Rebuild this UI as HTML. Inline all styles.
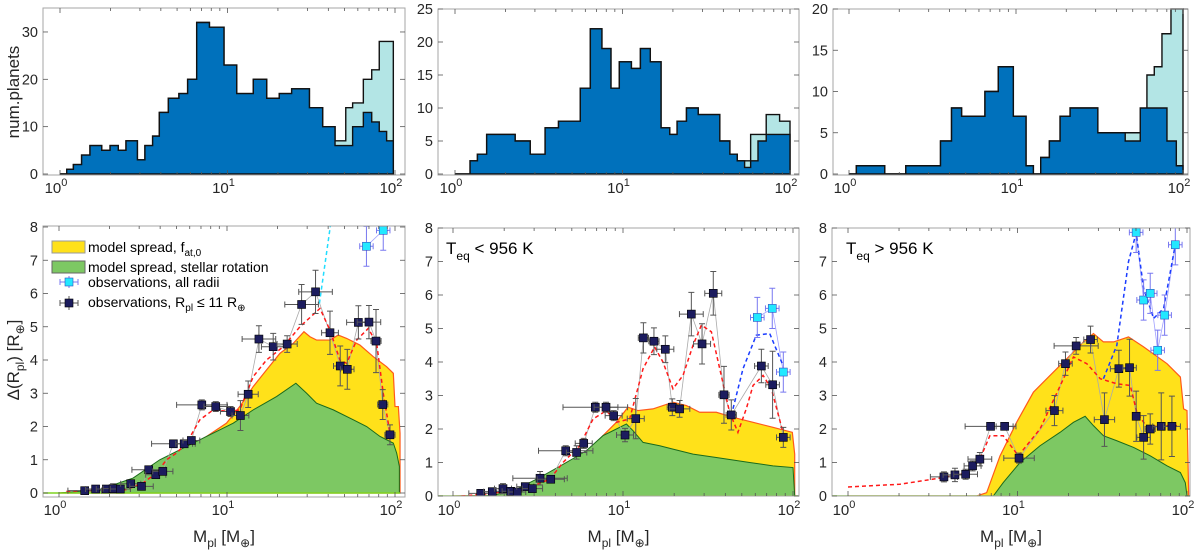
<!DOCTYPE html>
<html><head><meta charset="utf-8"><style>
body{margin:0;background:#fff;width:1200px;height:555px;overflow:hidden}
svg{display:block;font-family:"Liberation Sans",sans-serif}
</style></head><body>
<svg id="fig" width="1200" height="555" viewBox="0 0 1200 555"></svg>
<script>
// ---------- Histogram data (edges in log10 M, counts) ----------
const h1Edges=[0,.04,.08,.129,.179,.249,.299,.348,.394,.462,.507,.553,.593,.647,.710,.762,.816,.892,.979,1.055,1.154,1.234,1.309,1.383,1.489,1.568,1.642,1.706,1.747,1.811,1.861,1.906,1.950,1.990];
const h1Dark=[0,1,2,4,6,5,6,5,7,3,6,8,13,16,17,20,32,31,23,17,20,16,17,18,14,10,6,6,10,13,11,9,7];
const h1Light=[0,1,2,4,6,5,6,5,7,3,6,8,13,16,17,20,32,31,23,17,20,16,17,18,14,10,7,14,15,20,22,28,28];
const h2Edges=[0,.09,.134,.189,.359,.449,.538,.618,.748,.808,.877,.931,.981,1.053,1.107,1.166,1.230,1.282,1.326,1.382,1.452,1.581,1.641,1.685,1.729,1.765,1.809,1.858,1.938,2.0];
const h2Dark=[0,2,3,6,5,3,7,8,13,22,19,13,17,16,19,17,7,6,8,10,9,5,3,2,1,2,5,6,6];
const h2Light=[0,2,3,6,5,3,7,8,13,22,19,13,17,16,19,17,7,6,8,10,9,5,3,2,2,6,6,9,8];
const h3Edges=[0,.044,.214,.34,.548,.614,.674,.814,.894,.984,1.06,1.104,1.148,1.2,1.264,1.324,1.49,1.654,1.744,1.784,1.828,1.874,1.904,1.928,1.96,2.0];
const h3Dark=[0,1,0,1,4,8,7,10,13,7,1,0,2,4,7,8,5,4,8,8,8,8,4,4,1];
const h3Light=[0,1,0,1,4,8,7,10,13,7,1,0,2,4,7,8,5,5,5,12,13,17,17,20,20];

// ---------- Panel 1 (all) ----------
const p1YelX=[0,.163,.302,.441,.540,.640,.759,.878,.997,1.076,1.156,1.235,1.315,1.394,1.458,1.494,1.533,1.613,1.662,1.712,1.791,1.871,1.950,1.990,2.0,2.02,2.03,2.03];
const p1YelY=[0,.05,.15,.4,.75,1.05,1.35,1.7,2.1,2.6,3.2,3.7,4.2,4.5,4.85,4.7,4.6,4.6,4.75,4.65,4.45,4.1,3.8,3.6,2.6,2.6,1.8,0];
const p1GrnX=[0,.242,.441,.600,.759,.878,1.037,1.156,1.295,1.410,1.474,1.533,1.633,1.752,1.831,1.911,1.990,2.01,2.026,2.026];
const p1GrnY=[0,.1,.45,1.0,1.4,1.7,2.1,2.5,2.9,3.3,3.0,2.7,2.5,2.2,2.0,1.7,1.5,1.2,0.8,0];
const p1PtX=[.153,.218,.282,.322,.365,.427,.491,.534,.576,.618,.681,.745,.788,.850,.933,1.021,1.080,1.126,1.190,1.275,1.358,1.444,1.527,1.613,1.674,1.716,1.782,1.845,1.887,1.927,1.970];
const p1PtY=[.07,.12,.12,.13,.12,.28,.2,.7,.55,.65,1.48,1.48,1.58,2.65,2.6,2.45,2.33,2.97,4.63,4.4,4.48,5.67,6.05,4.82,3.82,3.72,5.13,5.14,4.57,2.66,1.75];
const p1XErr=[.1,.06,.06,.06,.06,.06,.07,.1,.06,.06,.13,.05,.05,.15,.07,.06,.05,.06,.1,.07,.06,.1,.1,.05,.04,.04,.07,.07,.03,.03,.03];
const p1YErr=[.05,.05,.05,.15,.1,.1,.1,.1,.1,.1,.1,.1,.1,.15,.15,.15,.45,.4,.4,.4,.25,.6,.65,.65,.6,.6,.5,.5,.95,.45,.3];
const p1RedX=[.044,.401,.5,.58,.64,.699,.759,.838,.918,1.017,1.076,1.156,1.235,1.335,1.434,1.553,1.613,1.672,1.712,1.772,1.841,1.891,1.930,1.970];
const p1RedY=[.05,.1,.3,.6,1.0,1.2,1.5,2.2,2.5,2.45,2.5,3.5,4.0,4.4,5.0,5.55,4.9,4.0,3.9,4.6,4.95,4.5,3.0,1.8];
const p1CyX=[1.83,1.93];
const p1CyY=[7.42,7.9];
const p1BlueX=[1.55,1.62];
const p1BlueY=[5.7,8.2];

// ---------- Panel 2 (Teq<956) ----------
const p2YelX=[0,.235,.373,.51,.667,.784,.882,.961,1.029,1.088,1.176,1.294,1.373,1.451,1.549,1.647,1.765,1.882,1.996,2.01,2.01];
const p2YelY=[0,.02,.2,.5,1.0,1.3,1.8,2.2,2.65,2.55,2.6,2.8,2.7,2.5,2.5,2.35,2.2,2.05,1.9,1.25,0];
const p2GrnX=[0,.235,.373,.51,.667,.784,.882,.961,1.02,1.059,1.118,1.216,1.294,1.412,1.549,1.745,1.882,2.0,2.01];
const p2GrnY=[0,.02,.2,.55,1.0,1.35,1.8,2.0,2.15,1.95,1.6,1.5,1.4,1.25,1.15,1.0,.9,.85,0];
const p2PtX=[.163,.231,.294,.339,.378,.425,.467,.512,.575,.663,.727,.769,.837,.900,.945,1.012,1.075,1.120,1.182,1.249,1.290,1.333,1.402,1.465,1.531,1.594,1.637,1.814,1.880,1.943];
const p2PtY=[.08,.13,.22,.14,.12,.28,.22,.53,.5,1.35,1.3,1.57,2.65,2.65,2.4,1.82,2.31,4.72,4.62,4.38,2.65,2.6,5.43,4.54,6.05,3.02,2.42,3.88,3.32,1.75];
const p2XErr=[.07,.05,.05,.05,.05,.05,.06,.16,.08,.16,.06,.05,.19,.07,.05,.05,.05,.03,.03,.05,.03,.06,.07,.05,.05,.03,.03,.04,.04,.04];
const p2YErr=[.05,.05,.15,.1,.1,.1,.1,.2,.1,.15,.2,.15,.15,.15,.15,.2,.6,.45,.4,.4,.25,.25,.65,.6,.65,.85,.45,.5,1.0,.3];
const p2RedX=[.049,.176,.333,.471,.569,.647,.745,.824,.902,.961,1.039,1.118,1.186,1.235,1.294,1.353,1.412,1.461,1.520,1.569,1.627,1.676,1.725,1.765,1.824,1.873,1.941];
const p2RedY=[0,.05,.15,.3,.5,1.0,1.5,2.3,2.55,2.2,2.3,3.8,4.45,4.0,3.2,3.6,4.5,5.1,4.9,3.8,2.5,1.9,2.6,3.3,3.6,3.2,1.9];
const p2CyX=[1.790,1.878,1.943];
const p2CyY=[5.33,5.6,3.7];
const p2BlueX=[1.637,1.706,1.784,1.863,1.941];
const p2BlueY=[2.4,3.8,4.8,4.85,3.9];

// ---------- Panel 3 (Teq>956) ----------
const p3YelX=[0,.759,.818,.897,.995,1.094,1.192,1.291,1.389,1.448,1.507,1.567,1.655,1.744,1.882,1.961,1.980,2.0,2.01];
const p3YelY=[0,0,.1,1.2,2.2,3.1,3.6,4.1,4.6,4.85,4.6,4.6,4.75,4.45,3.95,3.55,2.6,2.55,0];
const p3GrnX=[.857,.916,1.015,1.133,1.251,1.330,1.399,1.448,1.507,1.586,1.685,1.783,1.882,1.961,1.990,2.0];
const p3GrnY=[0,.4,1.0,1.5,1.9,2.2,2.38,2.1,1.8,1.65,1.45,1.2,.9,.7,.4,0];
const p3PtX=[.566,.631,.694,.735,.778,.841,.924,1.009,1.218,1.283,1.346,1.431,1.513,1.598,1.661,1.700,1.744,1.783,1.848,1.911];
const p3PtY=[.57,.63,.65,.9,1.1,2.08,2.08,1.13,2.55,3.95,4.48,4.67,2.28,3.8,3.83,2.38,1.75,2.0,2.08,2.08];
const p3XErr=[.08,.07,.07,.05,.07,.15,.05,.09,.05,.04,.13,.04,.06,.05,.04,.02,.04,.03,.05,.05];
const p3YErr=[.15,.2,.15,.15,.2,.1,.1,.15,.45,.35,.25,.4,.8,.55,.85,.75,.65,.45,1.0,.9];
const p3RedX=[0,.305,.562,.700,.778,.837,.916,1.005,1.133,1.271,1.330,1.409,1.488,1.586,1.665,1.704,1.764,1.842,1.941];
const p3RedY=[.27,.35,.55,.68,1.1,1.8,1.8,1.2,2.0,3.5,4.15,3.95,3.5,3.35,3.3,2.5,2.05,2.1,2.1];
const p3CyX=[1.700,1.744,1.783,1.827,1.868,1.931];
const p3CyY=[7.87,5.85,6.05,4.35,5.4,7.5];
const p3BlueX=[1.507,1.586,1.655,1.700,1.744,1.803,1.862,1.931];
const p3BlueY=[3.5,4.5,7.0,7.85,6.2,5.3,5.6,7.5];

const NS='http://www.w3.org/2000/svg';
const svg=document.getElementById('fig');
function mk(tag,attrs,parent){const e=document.createElementNS(NS,tag);for(const k in attrs)e.setAttribute(k,attrs[k]);(parent||svg).appendChild(e);return e;}
let clipId=0;
function axesFrame(bx0,bx1,by0,by1,x0,x2,name){
  const g=mk('g',{});
  
  
  mk('rect',{x:bx0,y:by0,width:bx1-bx0,height:by1-by0,fill:'#fff',stroke:'none'},g);
  return g;
}
function drawBox(g,bx0,bx1,by0,by1,xs,ticksY,ys,tickLabY){
  mk('rect',{x:bx0,y:by0,width:bx1-bx0,height:by1-by0,fill:'none',stroke:'#a6a6a6','stroke-width':1},g);
  for(let d=0;d<=2;d++){for(let m=1;m<=9;m++){const lv=d+Math.log10(m);if(lv>2.05)continue;const X=xs(lv);if(X<bx0||X>bx1)continue;const L=m==1?5:3;
    mk('line',{x1:X,x2:X,y1:by1,y2:by1-L,stroke:'#555','stroke-width':.8},g);
    mk('line',{x1:X,x2:X,y1:by0,y2:by0+L,stroke:'#555','stroke-width':.8},g);}}
  for(let d=0;d<=2;d++){const t=mk('text',{x:xs(d)-4,y:tickLabY,'font-size':15,fill:'#262626','text-anchor':'middle'},g);t.textContent='10';const s=mk('tspan',{dy:-7,'font-size':11},t);s.textContent=String(d);
    }
  ticksY.forEach(v=>{const Y=ys(v);mk('line',{x1:bx0,x2:bx0+5,y1:Y,y2:Y,stroke:'#555','stroke-width':.8},g);mk('line',{x1:bx1,x2:bx1-5,y1:Y,y2:Y,stroke:'#555','stroke-width':.8},g);
    const t=mk('text',{x:bx0-5,y:Y+5,'font-size':14.5,fill:'#262626','text-anchor':'end'},g);t.textContent=String(v);
    });
}
function stepPath(edges,counts,xs,ys){let d='M'+xs(edges[0])+','+ys(0);for(let i=0;i<counts.length;i++){d+='L'+xs(edges[i])+','+ys(counts[i])+'L'+xs(edges[i+1])+','+ys(counts[i]);}d+='L'+xs(edges[edges.length-1])+','+ys(0)+'Z';return d;}
function hist(cfg){
  const xs=v=>cfg.x0+(cfg.x2-cfg.x0)*v/2, ys=v=>cfg.y0-(cfg.y0-cfg.yt)*v/cfg.ymax;
  const g=axesFrame(cfg.bx0,cfg.bx1,cfg.by0,cfg.by1,cfg.x0,cfg.x2,cfg.name);
  const l=mk('path',{d:stepPath(cfg.edges,cfg.light,xs,ys),fill:'#b3e5e5',stroke:'#111','stroke-width':1.4,'stroke-linejoin':'miter'},g);
  
  const dk=mk('path',{d:stepPath(cfg.edges,cfg.dark,xs,ys),fill:'#0071bc',stroke:'#111','stroke-width':1.4},g);
  
  drawBox(g,cfg.bx0,cfg.bx1,cfg.by0,cfg.by1,xs,cfg.ticks,ys,193);
}
function poly(xa,ya,xs,ys){return xa.map((x,i)=>xs(x)+','+ys(ya[i])).join(' ');}
function scatter(cfg){
  const xs=v=>cfg.x0+(cfg.x2-cfg.x0)*v/2, ys=v=>cfg.y0-(cfg.y0-cfg.y8)*v/8;
  const g=axesFrame(cfg.bx0,cfg.bx1,cfg.by0,cfg.by1,cfg.x0,cfg.x2,cfg.name);
  const cid='c'+(clipId++);
  const cp=mk('clipPath',{id:cid},g);mk('rect',{x:cfg.bx0,y:cfg.by0,width:cfg.bx1-cfg.bx0,height:cfg.by1-cfg.by0},cp);
  const c=mk('g',{'clip-path':'url(#'+cid+')'},g);
  const yel=mk('polygon',{points:poly(cfg.yelX,cfg.yelY,xs,ys),fill:'#ffe11a',stroke:'#ff5a1a','stroke-width':1.2},c);
  
  const grn=mk('polygon',{points:poly(cfg.grnX,cfg.grnY,xs,ys),fill:'#7dc863',stroke:'#1b6a1b','stroke-width':1},c);
  
  mk('line',{x1:cfg.bx0,x2:xs(2.03),y1:ys(0),y2:ys(0),stroke:'#7ed321','stroke-width':1.5},c);
  mk('polyline',{points:poly(cfg.ptX,cfg.ptY,xs,ys),fill:'none',stroke:'#aaa','stroke-width':.8},c);
  if(cfg.cyX.length>1)mk('polyline',{points:poly(cfg.cyX,cfg.cyY,xs,ys),fill:'none',stroke:'#a0a0ff','stroke-width':.8},c);
  const red=mk('polyline',{points:poly(cfg.redX,cfg.redY,xs,ys),fill:'none',stroke:'#ff1a1a','stroke-width':1.5,'stroke-dasharray':'4,3'},c);
  
  const blu=mk('polyline',{points:poly(cfg.bluX,cfg.bluY,xs,ys),fill:'none',stroke:cfg.bluColor,'stroke-width':1.5,'stroke-dasharray':'4,3'},c);
  
  cfg.ptX.forEach((x,i)=>{const X=xs(x),Y=ys(cfg.ptY[i]),xl=xs(x-cfg.xErr[i]),xr=xs(x+cfg.xErr[i]),yt=ys(cfg.ptY[i]+cfg.yErr[i]),yb=ys(Math.max(0,cfg.ptY[i]-cfg.yErr[i]));
    const pg=mk('g',{},c);
    
    mk('path',{d:`M${xl},${Y}H${xr}M${xl},${Y-3}v6M${xr},${Y-3}v6M${X},${yt}V${yb}M${X-3},${yt}h6M${X-3},${yb}h6`,stroke:'#555','stroke-width':1,fill:'none'},pg);
    mk('rect',{x:X-4,y:Y-4,width:8,height:8,fill:'#1c1c5e',stroke:'#000','stroke-width':.6},pg);});
  cfg.cyX.forEach((x,i)=>{const X=xs(x),Y=ys(cfg.cyY[i]),xl=xs(x-.04),xr=xs(x+.04),yt=ys(cfg.cyY[i]+.6),yb=ys(cfg.cyY[i]-.6);
    const pg=mk('g',{},c);
    
    mk('path',{d:`M${xl},${Y}H${xr}M${xl},${Y-3}v6M${xr},${Y-3}v6M${X},${yt}V${yb}M${X-3},${yt}h6M${X-3},${yb}h6`,stroke:'#7878f0','stroke-width':1,fill:'none'},pg);
    mk('rect',{x:X-4,y:Y-4,width:8,height:8,fill:'#22e8ff',stroke:'#3050c0','stroke-width':.6},pg);});
  drawBox(g,cfg.bx0,cfg.bx1,cfg.by0,cfg.by1,xs,[0,1,2,3,4,5,6,7,8],ys,515);
  const t=mk('text',{x:(cfg.bx0+cfg.bx1)/2,y:542,'font-size':17,fill:'#262626','text-anchor':'middle'},g);
  
  t.innerHTML='M<tspan dy="5" font-size="12">pl</tspan><tspan dy="-5"> [M</tspan><tspan dy="5" font-size="12">⊕</tspan><tspan dy="-5">]</tspan>';
}
hist({name:'histogram-panel-1',edges:h1Edges,dark:h1Dark,light:h1Light,bx0:43,bx1:405,by0:8,by1:175,x0:60,x2:395,y0:174,yt:8.3,ymax:35,ticks:[0,10,20,30]});
hist({name:'histogram-panel-2',edges:h2Edges,dark:h2Dark,light:h2Light,bx0:438,bx1:799,by0:9,by1:175,x0:455,x2:790,y0:174,yt:9,ymax:25,ticks:[0,5,10,15,20,25]});
hist({name:'histogram-panel-3',edges:h3Edges,dark:h3Dark,light:h3Light,bx0:833,bx1:1188,by0:9,by1:175,x0:849,x2:1183,y0:174,yt:9,ymax:20,ticks:[0,5,10,15,20]});
scatter({name:'radius-spread-panel-all',bx0:43,bx1:405,by0:226,by1:497,x0:59,x2:395,y0:493,y8:227,yelX:p1YelX,yelY:p1YelY,grnX:p1GrnX,grnY:p1GrnY,ptX:p1PtX,ptY:p1PtY,xErr:p1XErr,yErr:p1YErr,redX:p1RedX,redY:p1RedY,cyX:p1CyX,cyY:p1CyY,bluX:p1BlueX,bluY:p1BlueY,bluColor:'#22ddff'});
scatter({name:'radius-spread-panel-cool',bx0:438,bx1:799,by0:228,by1:496,x0:453,x2:793,y0:496,y8:228,yelX:p2YelX,yelY:p2YelY,grnX:p2GrnX,grnY:p2GrnY,ptX:p2PtX,ptY:p2PtY,xErr:p2XErr,yErr:p2YErr,redX:p2RedX,redY:p2RedY,cyX:p2CyX,cyY:p2CyY,bluX:p2BlueX,bluY:p2BlueY,bluColor:'#1a3cff'});
scatter({name:'radius-spread-panel-hot',bx0:832,bx1:1190,by0:228,by1:496,x0:848,x2:1187,y0:496,y8:228,yelX:p3YelX,yelY:p3YelY,grnX:p3GrnX,grnY:p3GrnY,ptX:p3PtX,ptY:p3PtY,xErr:p3XErr,yErr:p3YErr,redX:p3RedX,redY:p3RedY,cyX:p3CyX,cyY:p3CyY,bluX:p3BlueX,bluY:p3BlueY,bluColor:'#1a3cff'});
</script>
<svg width="1200" height="555" style="position:absolute;left:0;top:0;font-family:'Liberation Sans',sans-serif">
<text x="19" y="92" font-size="17" fill="#262626" text-anchor="middle" transform="rotate(-90 19 92)">num.planets</text>
<text x="19" y="360" font-size="17" fill="#262626" text-anchor="middle" transform="rotate(-90 19 360)">Δ(R<tspan dy="5" font-size="12">pl</tspan><tspan dy="-5">) [R</tspan><tspan dy="5" font-size="12">⊕</tspan><tspan dy="-5">]</tspan></text>
<text x="446" y="254" font-size="17" fill="#000">T<tspan dy="6" font-size="12">eq</tspan><tspan dy="-6"> &lt; 956 K</tspan></text>
<text x="846" y="254" font-size="17" fill="#000">T<tspan dy="6" font-size="12">eq</tspan><tspan dy="-6"> &gt; 956 K</tspan></text>
<g>
<rect x="52" y="241" width="33" height="12" fill="#ffe11a" stroke="#999"/>
<text x="88" y="252" font-size="14">model spread, f<tspan dy="4" font-size="10">at,0</tspan></text>
<rect x="52" y="261" width="33" height="12" fill="#7dc863" stroke="#666"/>
<text x="88" y="272" font-size="14">model spread, stellar rotation</text>
<g><path d="M60,282H78M60,279v6M78,279v6M69,276v12" stroke="#7878f0" fill="none"/><rect x="65" y="278" width="8" height="8" fill="#22e8ff" stroke="#3050c0" stroke-width=".6"/></g>
<text x="88" y="287" font-size="14">observations, all radii</text>
<g><path d="M60,303H78M60,300v6M78,300v6M69,296v14" stroke="#555" fill="none"/><rect x="65" y="299" width="8" height="8" fill="#1c1c5e" stroke="#000" stroke-width=".6"/></g>
<text x="88" y="307" font-size="14">observations, R<tspan dy="4" font-size="10">pl</tspan><tspan dy="-4"> ≤ 11 R</tspan><tspan dy="4" font-size="10">⊕</tspan></text>
</g>
</svg>
</body></html>
